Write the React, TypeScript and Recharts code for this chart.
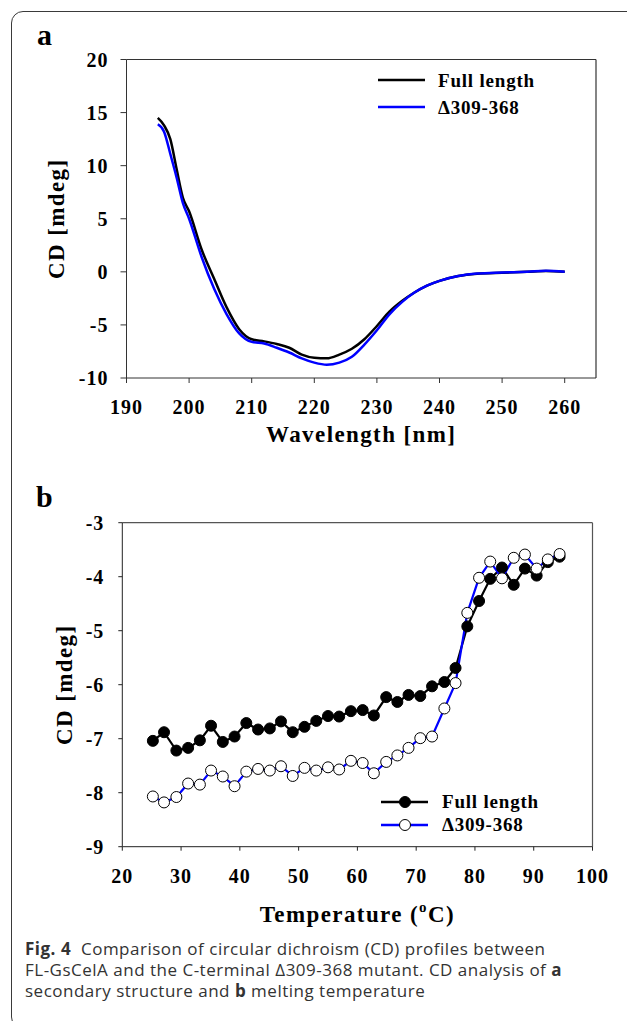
import React from "react";
import {
  Legend,
  Line,
  LineChart,
  ReferenceLine,
  XAxis,
  YAxis,
} from "recharts";

// ---- panel a: CD spectrum (wavelength scan) ----
const wavelengthNm = [
  195, 196, 197, 198, 199, 200, 202, 204, 206, 208, 210, 212, 214, 216, 218, 220,
  222, 224, 226, 228, 230, 232, 234, 236, 238, 240, 243, 246, 250, 254, 257, 260,
];
const cdFullLength = [
  14.5, 13.8, 12.5, 9.7, 7.0, 5.7, 2.1, -0.65, -3.35, -5.4, -6.35, -6.55, -6.8, -7.15,
  -7.8, -8.1, -8.15, -7.8, -7.25, -6.35, -5.1, -3.75, -2.75, -1.95, -1.3, -0.85, -0.4,
  -0.18, -0.08, 0.0, 0.08, 0.0,
];
const cdDelta = [
  13.9, 13.2, 11.1, 8.9, 6.5, 5.0, 1.4, -1.6, -4.0, -5.8, -6.6, -6.75, -7.15, -7.6,
  -8.15, -8.55, -8.75, -8.55, -8.0, -6.85, -5.5, -4.0, -2.85, -1.95, -1.3, -0.85, -0.4,
  -0.16, -0.06, 0.0, 0.1, 0.0,
];
const wavelengthTicks = [190, 200, 210, 220, 230, 240, 250, 260];
const cdTicksA = [-10, -5, 0, 5, 10, 15, 20];

// ---- panel b: thermal melt ----
const temperatureC = [
  25.2, 27.1, 29.2, 31.2, 33.2, 35.1, 37.1, 39.1, 41.1, 43.1, 45.1, 47.0, 49.0, 51.0,
  53.0, 55.0, 56.9, 58.9, 60.9, 62.8, 64.9, 66.8, 68.7, 70.7, 72.7, 74.8, 76.7, 78.7,
  80.7, 82.6, 84.6, 86.6, 88.5, 90.5, 92.4, 94.4,
];
const meltFullLength = [
  -7.04, -6.88, -7.22, -7.17, -7.03, -6.76, -7.06, -6.96, -6.71, -6.83, -6.81, -6.68,
  -6.88, -6.78, -6.67, -6.58, -6.59, -6.49, -6.47, -6.57, -6.23, -6.32, -6.19, -6.21,
  -6.03, -5.95, -5.69, -4.92, -4.45, -4.04, -3.83, -4.15, -3.85, -3.98, -3.73, -3.63,
];
const meltDelta = [
  -8.07, -8.18, -8.08, -7.83, -7.85, -7.59, -7.7, -7.88, -7.61, -7.56, -7.59, -7.51,
  -7.69, -7.54, -7.59, -7.53, -7.57, -7.41, -7.45, -7.64, -7.43, -7.31, -7.17, -6.99,
  -6.96, -6.44, -5.97, -4.67, -4.02, -3.72, -4.03, -3.65, -3.59, -3.85, -3.68, -3.58,
];
const tempTicks = [20, 30, 40, 50, 60, 70, 80, 90, 100];
const cdTicksB = [-9, -8, -7, -6, -5, -4, -3];

const spectrumRows = wavelengthNm.map((nm, i) => ({
  nm,
  full: cdFullLength[i],
  delta: cdDelta[i],
}));
const meltRows = temperatureC.map((t, i) => ({
  t,
  full: meltFullLength[i],
  delta: meltDelta[i],
}));

const SERIF = "'Liberation Serif', 'Times New Roman', serif";
const tickStyle = { fontSize: 20, fontWeight: 700, fill: "#000", letterSpacing: 1 };
const titleStyle = { fontSize: 23, fontWeight: 700, fill: "#000", letterSpacing: 1.4 };

type LegendRow = { label: string; color: string; dot?: "filled" | "open" };

function makeLegend(rows: LegendRow[], rowHeight: number, gap: number) {
  return () => (
    <div style={{ fontFamily: SERIF }}>
      {rows.map((r) => (
        <div
          key={r.label}
          style={{ display: "flex", alignItems: "center", height: rowHeight }}
        >
          <svg width={48} height={14} style={{ display: "block" }}>
            <line x1={0} y1={7} x2={47} y2={7} stroke={r.color} strokeWidth={2.5} />
            {r.dot && (
              <circle
                cx={24}
                cy={7}
                r={5.5}
                fill={r.dot === "filled" ? "#000" : "#fff"}
                stroke="#000"
                strokeWidth={1}
              />
            )}
          </svg>
          <span
            style={{
              marginLeft: gap,
              fontSize: 19,
              fontWeight: 700,
              letterSpacing: 0.8,
              lineHeight: 1,
            }}
          >
            {r.label}
          </span>
        </div>
      ))}
    </div>
  );
}

function TemperatureTitle(props: any) {
  const vb = props.viewBox || { x: 0, y: 0, width: 0, height: 0 };
  const cx = vb.x + vb.width / 2;
  const y = vb.y + vb.height - 13;
  return (
    <text x={cx} y={y} textAnchor="middle" style={titleStyle}>
      <tspan>Temperature (</tspan>
      <tspan dy={-10} fontSize={15}>
        o
      </tspan>
      <tspan dy={10}>C)</tspan>
    </text>
  );
}

export default function App() {
  return (
    <div
      style={{
        position: "absolute",
        left: 0,
        top: 0,
        width: 627,
        height: 1021,
        overflow: "hidden",
        background: "#fff",
        fontFamily: SERIF,
      }}
    >
      {/* figure frame */}
      <div
        style={{
          position: "absolute",
          left: 11,
          top: 11,
          width: 660,
          height: 1016,
          border: "1.3px solid #3a3a3a",
          borderRadius: 12,
        }}
      />
      <div style={{ position: "absolute", left: 37, top: 18, fontSize: 30, fontWeight: 700 }}>
        a
      </div>
      <div style={{ position: "absolute", left: 36, top: 480, fontSize: 30, fontWeight: 700 }}>
        b
      </div>

      {/* panel a */}
      <div style={{ position: "absolute", left: 0, top: 0 }}>
        <LineChart
          width={627}
          height={460}
          data={spectrumRows}
          margin={{ top: 59.5, right: 31, bottom: 5, left: 45 }}
        >
          <XAxis
            dataKey="nm"
            type="number"
            domain={[190, 265]}
            ticks={wavelengthTicks}
            height={77}
            stroke="#333"
            tickSize={5}
            tickMargin={17}
            tick={tickStyle}
            label={{
              value: "Wavelength [nm]",
              position: "insideBottom",
              offset: 13,
              style: titleStyle,
            }}
          />
          <YAxis
            type="number"
            domain={[-10, 20]}
            ticks={cdTicksA}
            width={81.5}
            stroke="#333"
            tickSize={6}
            tickMargin={12}
            tick={tickStyle}
            label={{
              value: "CD [mdeg]",
              angle: -90,
              position: "insideLeft",
              offset: 10.7,
              style: { ...titleStyle, textAnchor: "middle" },
            }}
          />
          <ReferenceLine y={20} stroke="#333" strokeWidth={1.2} />
          <ReferenceLine x={265} stroke="#333" strokeWidth={1.2} />
          <Legend
            layout="vertical"
            align="center"
            verticalAlign="middle"
            content={makeLegend(
              [
                { label: "Full length", color: "#000" },
                { label: "\u0394309-368", color: "#0000ff" },
              ],
              26.7,
              12
            )}
            wrapperStyle={{ position: "absolute", left: 378, top: 67, width: "auto" }}
          />
          <Line
            type="monotone"
            dataKey="full"
            name="Full length"
            stroke="#000"
            strokeWidth={2.5}
            dot={false}
            isAnimationActive={false}
          />
          <Line
            type="monotone"
            dataKey="delta"
            name={"\u0394309-368"}
            stroke="#0000ff"
            strokeWidth={2.5}
            dot={false}
            isAnimationActive={false}
          />
        </LineChart>
      </div>

      {/* panel b */}
      <div style={{ position: "absolute", left: 0, top: 470 }}>
        <LineChart
          width={627}
          height={470}
          data={meltRows}
          margin={{ top: 52.7, right: 34.5, bottom: 5, left: 45 }}
        >
          <XAxis
            dataKey="t"
            type="number"
            domain={[20, 100]}
            ticks={tempTicks}
            height={88.3}
            stroke="#222"
            tickSize={4}
            tickMargin={18.4}
            tick={tickStyle}
            label={{ content: TemperatureTitle }}
          />
          <YAxis
            type="number"
            domain={[-9, -3]}
            ticks={cdTicksB}
            width={77.3}
            stroke="#222"
            tickSize={4}
            tickMargin={14}
            tick={tickStyle}
            label={{
              value: "CD [mdeg]",
              angle: -90,
              position: "insideLeft",
              offset: 18.7,
              style: { ...titleStyle, textAnchor: "middle" },
            }}
          />
          <ReferenceLine y={-3} stroke="#555" strokeWidth={1.2} />
          <ReferenceLine x={100} stroke="#555" strokeWidth={1.2} />
          <Legend
            layout="vertical"
            align="center"
            verticalAlign="middle"
            content={makeLegend(
              [
                { label: "Full length", color: "#000", dot: "filled" },
                { label: "\u0394309-368", color: "#0000ff", dot: "open" },
              ],
              23.3,
              13
            )}
            wrapperStyle={{ position: "absolute", left: 381, top: 320, width: "auto" }}
          />
          <Line
            type="linear"
            dataKey="full"
            name="Full length"
            stroke="#000"
            strokeWidth={2.2}
            dot={{ r: 5.5, fill: "#000", stroke: "#000", strokeWidth: 1 }}
            isAnimationActive={false}
          />
          <Line
            type="linear"
            dataKey="delta"
            name={"\u0394309-368"}
            stroke="#0000ff"
            strokeWidth={2.2}
            dot={{ r: 5.5, fill: "#fff", stroke: "#000", strokeWidth: 1 }}
            isAnimationActive={false}
          />
        </LineChart>
      </div>

      {/* caption */}
      <div
        style={{
          position: "absolute",
          left: 25,
          top: 938,
          fontFamily: "'Open Sans', 'Noto Sans', sans-serif",
          fontSize: 17,
          letterSpacing: 0.5,
          lineHeight: "21px",
          color: "#333",
          whiteSpace: "nowrap",
        }}
      >
        <b>Fig. 4</b>&nbsp; Comparison of circular dichroism (CD) profiles between
        <br />
        FL-GsCelA and the C-terminal {"\u0394"}309-368 mutant. CD analysis of <b>a</b>
        <br />
        secondary structure and <b>b</b> melting temperature
      </div>
    </div>
  );
}
